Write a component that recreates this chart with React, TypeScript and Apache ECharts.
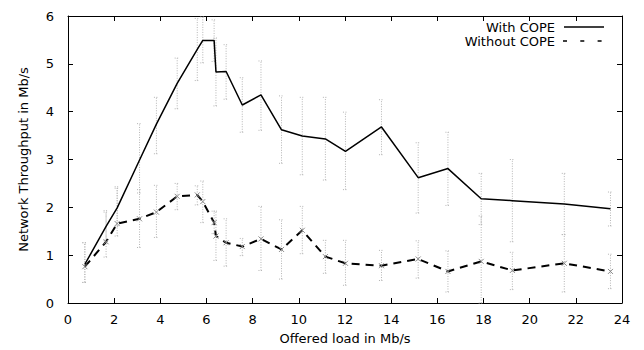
import React, { useEffect, useRef } from "react";
import * as echarts from "echarts";

// Offered load (Mb/s) – shared x positions of the measurements
const loadX = [0.73, 1.65, 2.13, 3.1, 3.83, 4.73, 5.6, 5.84, 6.33, 6.41, 6.85, 7.55, 8.36, 9.25, 10.15, 11.15, 12.02, 13.58, 15.17, 16.46, 17.9, 19.25, 21.5, 23.5];

// With COPE
const withY = [0.81, 1.6, 1.99, 2.99, 3.74, 4.59, 5.3, 5.49, 5.49, 4.83, 4.84, 4.14, 4.35, 3.62, 3.49, 3.43, 3.17, 3.68, 2.62, 2.81, 2.18, 2.14, 2.07, 1.97];
const withLow = [0.43, 1.3, 1.6, 2.3, 3.12, 4.06, 4.65, 5.02, 5.05, 4.12, 4.26, 3.57, 3.61, 2.92, 2.68, 2.57, 2.37, 3.1, 1.88, 2.04, 1.64, 1.28, 1.43, 1.61];
const withHigh = [1.26, 1.93, 2.43, 3.75, 4.3, 5.12, 5.95, 5.98, 5.92, 5.54, 5.4, 4.71, 5.06, 4.33, 4.3, 4.3, 3.99, 4.25, 3.35, 3.57, 2.71, 3.0, 2.71, 2.32];

// Without COPE
const withoutY = [0.76, 1.28, 1.66, 1.76, 1.9, 2.23, 2.26, 2.12, 1.68, 1.4, 1.26, 1.18, 1.34, 1.12, 1.52, 0.97, 0.83, 0.78, 0.92, 0.66, 0.87, 0.68, 0.83, 0.66];
const withoutLow = [0.43, 0.96, 1.4, 1.16, 1.37, 1.95, 2.05, 1.68, 1.45, 0.89, 0.77, 0.99, 0.68, 0.5, 1.03, 0.62, 0.37, 0.47, 0.52, 0.23, 0, 0.28, 0.23, 0.3];
const withoutHigh = [1.26, 1.9, 2.4, 2.37, 2.46, 2.5, 2.45, 2.55, 1.92, 1.92, 1.76, 1.35, 2.02, 1.74, 2.02, 1.31, 1.31, 1.1, 1.3, 1.09, 1.82, 1.06, 1.43, 1.02];

const xTicks = { min: 0, max: 24, interval: 2 };
const yTicks = { min: 0, max: 6, interval: 1 };

const seriesNames = ["With COPE", "Without COPE"];
const xName = "Offered load in Mb/s";
const yName = "Network Throughput in Mb/s";

const FONT = "DejaVu Sans";

function errorBarRender(params: any, api: any) {
  const x = api.value(0);
  const lo = api.coord([x, api.value(1)]);
  const hi = api.coord([x, api.value(2)]);
  const cap = 2.5;
  const style = { stroke: "#b4b4b4", lineWidth: 1, lineDash: [1, 1.5] };
  return {
    type: "group",
    children: [
      { type: "line", shape: { x1: lo[0], y1: lo[1], x2: hi[0], y2: hi[1] }, style },
      { type: "line", shape: { x1: hi[0] - cap, y1: hi[1], x2: hi[0] + cap, y2: hi[1] }, style },
      { type: "line", shape: { x1: lo[0] - cap, y1: lo[1], x2: lo[0] + cap, y2: lo[1] }, style },
    ],
  };
}

export default function App() {
  const ref = useRef<HTMLDivElement>(null);
  useEffect(() => {
    document.body.style.margin = "0";
    const chart = echarts.init(ref.current!, null, { renderer: "svg" });
    const axisLine = { show: true, onZero: false, lineStyle: { color: "#000", width: 1 } };
    const axisTick = { show: true, inside: true, length: 5, lineStyle: { color: "#000", width: 1 } };
    const labelStyle = { color: "#000", fontSize: 13, fontFamily: FONT };
    chart.setOption({
      animation: false,
      backgroundColor: "#fff",
      grid: { left: 68, right: 22, top: 16, bottom: 44 },
      xAxis: [
        {
          type: "value", ...xTicks, position: "bottom",
          axisLine, axisTick, splitLine: { show: false },
          axisLabel: { ...labelStyle, margin: 10 },
          name: xName, nameLocation: "middle", nameGap: 29,
          nameTextStyle: { color: "#000", fontSize: 13, fontFamily: FONT },
        },
        {
          type: "value", ...xTicks, position: "top",
          axisLine, axisTick, splitLine: { show: false },
          axisLabel: { show: false },
        },
      ],
      yAxis: [
        {
          type: "value", ...yTicks, position: "left",
          axisLine, axisTick, splitLine: { show: false },
          axisLabel: { ...labelStyle, margin: 14 },
          name: yName, nameLocation: "middle", nameGap: 38,
          nameTextStyle: { color: "#000", fontSize: 13, fontFamily: FONT },
        },
        {
          type: "value", ...yTicks, position: "right",
          axisLine, axisTick, splitLine: { show: false },
          axisLabel: { show: false },
        },
      ],
      series: [
        {
          type: "custom", name: seriesNames[0] + " error", renderItem: errorBarRender,
          data: loadX.map((x, i) => [x, withLow[i], withHigh[i]]), z: 1, silent: true,
        },
        {
          type: "custom", name: seriesNames[1] + " error", renderItem: errorBarRender,
          data: loadX.map((x, i) => [x, withoutLow[i], withoutHigh[i]]), z: 1, silent: true,
        },
        {
          type: "line", name: seriesNames[1],
          data: loadX.map((x, i) => [x, withoutY[i]]),
          symbol: "path://M0,0L10,10M10,0L0,10", symbolSize: 5, showSymbol: true,
          itemStyle: { color: "rgba(0,0,0,0)", borderColor: "#8a8a8a", borderWidth: 1 },
          lineStyle: { color: "#000", width: 2, type: [8, 6] },
          z: 3,
        },
        {
          type: "line", name: seriesNames[0],
          data: loadX.map((x, i) => [x, withY[i]]),
          showSymbol: false,
          lineStyle: { color: "#000", width: 1.5 },
          z: 4,
        },
      ],
      graphic: [
        {
          type: "text", x: 555, y: 27,
          style: { text: seriesNames[0], fontSize: 13, fontFamily: FONT, fill: "#000", align: "right", verticalAlign: "middle" },
        },
        {
          type: "line", shape: { x1: 564, y1: 27, x2: 604, y2: 27 },
          style: { stroke: "#000", lineWidth: 1.5 },
        },
        {
          type: "text", x: 555, y: 41,
          style: { text: seriesNames[1], fontSize: 13, fontFamily: FONT, fill: "#000", align: "right", verticalAlign: "middle" },
        },
        {
          type: "line", shape: { x1: 563, y1: 41, x2: 604, y2: 41 },
          style: { stroke: "#000", lineWidth: 1.5, lineDash: [4, 13.3] },
        },
      ],
    });
    return () => chart.dispose();
  }, []);
  return <div ref={ref} style={{ width: 644, height: 350 }} />;
}
